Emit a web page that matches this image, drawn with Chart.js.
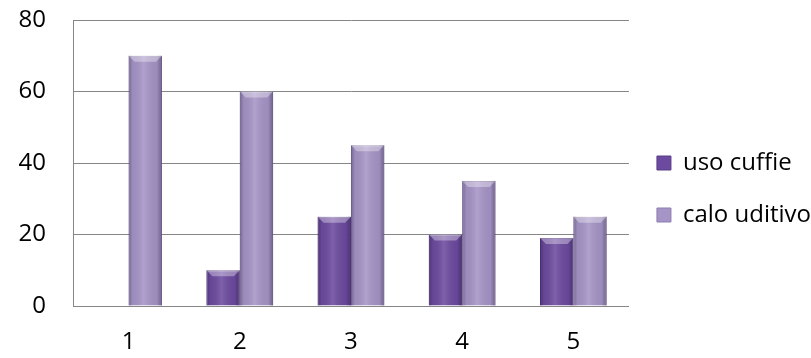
<!DOCTYPE html>
<html>
<head>
<meta charset="utf-8">
<script src="https://cdn.jsdelivr.net/npm/chart.js@4.4.0/dist/chart.umd.min.js"></script>
<style>
  html, body { margin: 0; padding: 0; background: #fff; }
  #wrap { width: 811px; height: 358px; }
</style>
</head>
<body>
<div id="wrap"><canvas id="grafico"></canvas></div>
<script>
const categorie = ['1', '2', '3', '4', '5'];
const usoCuffie = [0, 10, 25, 20, 19];
const caloUditivo = [70, 60, 45, 35, 25];
const tickY = [0, 20, 40, 60, 80];

// ombreggiatura "3D" sopra le barre, dalle posizioni calcolate da Chart.js
const bevelBarre = {
    id: 'bevelBarre',
    afterDatasetsDraw(chart) {
        const ctx = chart.ctx;
        chart.data.datasets.forEach((ds, i) => {
            chart.getDatasetMeta(i).data.forEach(bar => {
                const w = bar.width;
                const l = bar.x - w / 2, r = bar.x + w / 2;
                const top = bar.y, base = bar.base;
                if (base - top < 1) return;
                ctx.save();
                const g = ctx.createLinearGradient(l, 0, r, 0);
                g.addColorStop(0, 'rgba(40,20,70,0.35)');
                g.addColorStop(0.12, 'rgba(0,0,0,0.05)');
                g.addColorStop(0.45, 'rgba(255,255,255,0.12)');
                g.addColorStop(0.85, 'rgba(0,0,0,0.05)');
                g.addColorStop(1, 'rgba(40,20,70,0.4)');
                ctx.fillStyle = g;
                ctx.fillRect(l, top, w, base - top);
                const b = Math.min(6, (base - top) / 2);
                ctx.beginPath();
                ctx.moveTo(l, top);
                ctx.lineTo(r, top);
                ctx.lineTo(r - b, top + b);
                ctx.lineTo(l + b, top + b);
                ctx.closePath();
                ctx.fillStyle = 'rgba(255,255,255,0.35)';
                ctx.fill();
                ctx.restore();
            });
        });
    }
};

const ctx = document.getElementById('grafico').getContext('2d');
new Chart(ctx, {
    type: 'bar',
    data: {
        labels: categorie,
        datasets: [{
            label: 'uso cuffie',
            data: usoCuffie,
            backgroundColor: '#6c4a9f',
            borderColor: '#5a3d88',
            borderWidth: 1
        }, {
            label: 'calo uditivo',
            data: caloUditivo,
            backgroundColor: '#a594c6',
            borderColor: '#8d7db0',
            borderWidth: 1
        }]
    },
    options: {
        responsive: true,
        maintainAspectRatio: false,
        animation: false,
        layout: { padding: { top: 20, left: 0, right: -10, bottom: 0 } },
        datasets: {
            bar: { categoryPercentage: 0.6, barPercentage: 1.0 }
        },
        plugins: {
            tooltip: { enabled: false },
            legend: {
                position: 'right',
                align: 'center',
                labels: {
                    boxWidth: 14,
                    boxHeight: 14,
                    padding: 28,
                    color: '#000',
                    font: { family: 'Open Sans', size: 24 }
                }
            }
        },
        scales: {
            x: {
                grid: { display: false, drawTicks: false },
                border: { display: true, color: '#868686', width: 1 },
                afterFit(scale) { scale.height = 52; },
                ticks: {
                    color: '#000',
                    padding: 22,
                    font: { family: 'Open Sans', size: 24 }
                }
            },
            y: {
                min: 0,
                max: 80,
                afterBuildTicks(scale) {
                    scale.ticks = tickY.map(v => ({ value: v }));
                },
                afterFit(scale) {
                    scale.width = 73;
                    scale.paddingTop = 0;
                    scale.paddingBottom = 0;
                },
                grid: { color: '#868686', drawTicks: false },
                border: { display: true, color: '#868686', width: 1 },
                ticks: {
                    color: '#000',
                    padding: 27,
                    font: { family: 'Open Sans', size: 24 }
                }
            }
        }
    },
    plugins: [bevelBarre]
});
</script>
</body>
</html>
